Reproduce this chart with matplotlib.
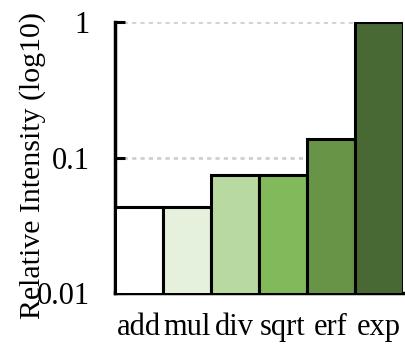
#!/usr/bin/env python3
# -*- coding: utf-8 -*-
import matplotlib.pyplot as plt
import matplotlib.ticker as ticker

# data
OPS = ["add", "mul", "div", "sqrt", "erf", "exp"]
INTENSITY = [0.043, 0.043, 0.075, 0.075, 0.138, 1.0]
COLORS = ["#ffffff", "#e5f0dd", "#b8d9a0", "#82b95a", "#679446", "#486933"]
YTICKS = [0.01, 0.1, 1]
YTICKLABELS = ["0.01", "0.1", "1"]

plt.rcParams["font.family"] = ["Liberation Serif", "DejaVu Serif"]
plt.rcParams["font.size"] = 22

fig = plt.figure(figsize=(4.05, 3.45), dpi=100)
ax = fig.add_axes([0.283, 0.150, 0.712, 0.786])

ax.bar(range(len(OPS)), INTENSITY, width=1.0, color=COLORS,
       edgecolor="black", linewidth=2.2, zorder=3)

ax.set_yscale("log")
ax.set_ylim(0.01, 1)
ax.set_xlim(-0.5, len(OPS) - 0.5)
ax.set_yticks(YTICKS)
ax.set_yticklabels(YTICKLABELS)
ax.yaxis.set_minor_locator(ticker.NullLocator())
ax.set_xticks(range(len(OPS)))
ax.set_xticklabels(OPS)

ax.tick_params(axis="y", direction="in", length=7, width=2.2, pad=18)
ax.tick_params(axis="x", length=0, pad=14)
ax.yaxis.grid(True, color="#d0d0d0", linestyle=(0, (1.5, 1.5)), linewidth=2.0, zorder=0)

for side in ("top", "right"):
    ax.spines[side].set_visible(False)
for side in ("left", "bottom"):
    ax.spines[side].set_linewidth(2.5)

ax.set_ylabel("Relative Intensity (log10)", fontsize=21.5)
ax.yaxis.set_label_coords(-0.238, 0.47)

fig.savefig("out.png", dpi=100)
